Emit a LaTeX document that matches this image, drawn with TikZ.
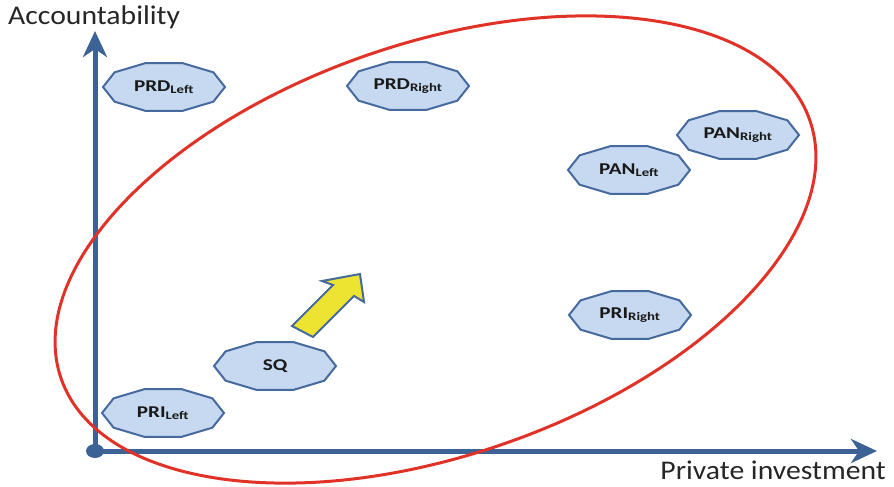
\documentclass[tikz,border=0pt]{standalone}
\usepackage{fontspec}
\setmainfont{Carlito}[FakeStretch=1.1]
\newfontfamily\partyfont{Carlito}[FakeStretch=1.28]
\usetikzlibrary{arrows.meta,backgrounds}

\definecolor{axisblue}{RGB}{60,98,150}
\definecolor{partyline}{RGB}{70,106,158}
\definecolor{partyfill}{RGB}{198,217,240}
\definecolor{hullred}{RGB}{224,50,38}
\definecolor{shiftyellow}{RGB}{236,228,48}

\tikzset{
  party/.style={font=\partyfont\bfseries\fontsize{16.5}{18}\selectfont, text=black!90, inner sep=0pt},
  partyshape/.style={draw=partyline, fill=partyfill, line width=2pt},
  axis/.style={draw=axisblue, line width=5pt, -{Stealth[length=26pt,width=24pt,inset=8pt]}},
  axislabel/.style={font=\fontsize{27}{30}\selectfont, text=black!85, inner sep=0pt},
  hull/.style={draw=hullred, line width=3pt},
}

\begin{document}
\begin{tikzpicture}[x=1pt, y=1pt]
\useasboundingbox (0,0) rectangle (894,-487);
\coordinate (O) at (95,-451);
\coordinate (X) at (877,-451);
\coordinate (Y) at (95,-31);
\coordinate (C) at (435.5,-249.5);

% axes
\draw[axis] (O) -- (Y);
\draw[axis] (O) -- (X);
\fill[axisblue] (O) ellipse (9 and 7);
\node[axislabel, anchor=base west] (acc) at (8,-25) {Accountability};
\node[axislabel, anchor=base east] (inv) at (886,-479) {Private investment};

% parties
\node[party] (prdl) at (164,-87)  {PRD\textsubscript{Left}};
\node[party] (prdr) at (408,-86)  {PRD\textsubscript{Right}};
\node[party] (panr) at (738,-135) {PAN\textsubscript{Right}};
\node[party] (panl) at (629,-170) {PAN\textsubscript{Left}};
\node[party] (prir) at (630,-315) {PRI\textsubscript{Right}};
\node[party] (sq)   at (275,-366) {SQ};
\node[party] (pril) at (163,-413) {PRI\textsubscript{Left}};

\begin{scope}[on background layer]
  \foreach \n in {prdl,prdr,panr,panl,prir,sq,pril}
    \draw[partyshape] ([shift={(0:61 and 25)}]\n.center)
      \foreach \a in {36,72,...,324}{ -- ([shift={(\a:61 and 25)}]\n.center) } -- cycle;
\end{scope}

% shift away from the status quo
\draw[fill=shiftyellow, draw=partyline, line width=2pt]
  (292,-326) -- (333,-285) -- (322,-281) -- (360,-274)
  -- (364,-302) -- (354,-296) -- (313,-337) -- cycle;

\draw[hull, rotate around={19:(C)}] (C) ellipse (396 and 206);
\end{tikzpicture}
\end{document}
